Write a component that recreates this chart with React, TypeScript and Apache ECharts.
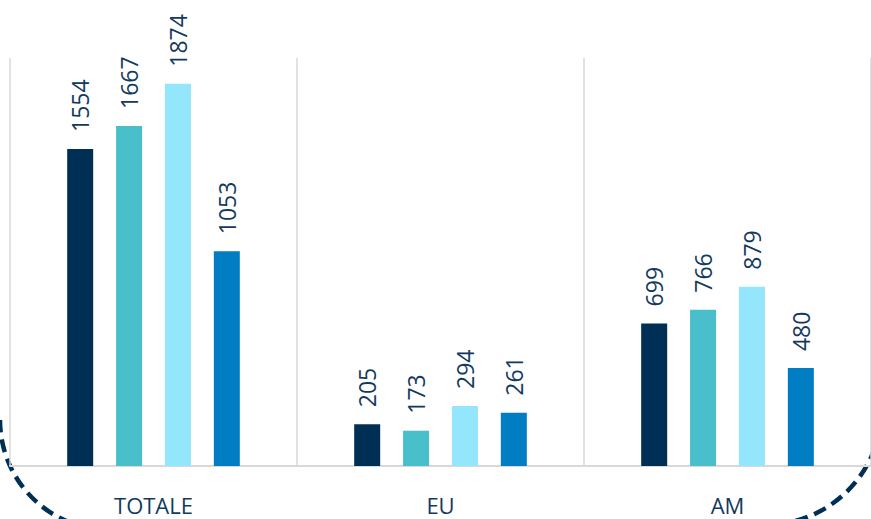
import React, { useEffect, useRef } from "react";
import * as echarts from "echarts";

const categories = ["TOTALE", "EU", "AM"];
const seriesNames = ["Serie A", "Serie B", "Serie C", "Serie D"];
const seriesA = [1554, 205, 699];
const seriesB = [1667, 173, 766];
const seriesC = [1874, 294, 879];
const seriesD = [1053, 261, 480];
const colors = ["#002f55", "#4abfcc", "#94e6fc", "#007dc3"];

export default function App() {
  const ref = useRef<HTMLDivElement>(null);
  useEffect(() => {
    if (!ref.current) return;
    const chart = echarts.init(ref.current, undefined, { renderer: "svg" });
    const data = [seriesA, seriesB, seriesC, seriesD];
    const textColor = "#123a5e";
    const dashStyle = {
      stroke: "#002f55",
      lineWidth: 4.5,
      lineDash: [13, 7],
      fill: "none",
    };
    chart.setOption({
      animation: false,
      backgroundColor: "#ffffff",
      grid: { left: 10, width: 862, top: 58, bottom: 53, containLabel: false },
      xAxis: {
        type: "category",
        data: categories,
        axisTick: { show: false },
        axisLine: { lineStyle: { color: "#d9d9d9", width: 2 } },
        splitLine: { show: true, lineStyle: { color: "#d9d9d9", width: 1.5 } },
        axisLabel: {
          color: textColor,
          fontSize: 22,
          fontFamily: "Open Sans",
          margin: 28,
        },
      },
      yAxis: {
        type: "value",
        min: 0,
        max: 2000,
        show: false,
        splitLine: { show: false },
      },
      series: data.map((d, i) => ({
        type: "bar",
        name: seriesNames[i],
        data: d,
        barWidth: 26,
        barGap: "88%",
        itemStyle: { color: colors[i] },
        label: {
          show: true,
          position: "top",
          rotate: 90,
          align: "left",
          verticalAlign: "middle",
          distance: 17,
          color: textColor,
          fontSize: 23,
          fontFamily: "Open Sans",
        },
      })),
      graphic: [
        {
          type: "arc",
          silent: true,
          shape: { cx: 110, cy: 420, r: 110, startAngle: Math.PI / 2, endAngle: Math.PI, clockwise: true },
          style: dashStyle,
        },
        {
          type: "arc",
          silent: true,
          shape: { cx: 765, cy: 408, r: 117, startAngle: 0, endAngle: Math.PI / 2, clockwise: true },
          style: dashStyle,
        },
      ],
    });
    return () => chart.dispose();
  }, []);
  return <div ref={ref} style={{ width: 871, height: 519, position: "absolute", left: 0, top: 0 }} />;
}
